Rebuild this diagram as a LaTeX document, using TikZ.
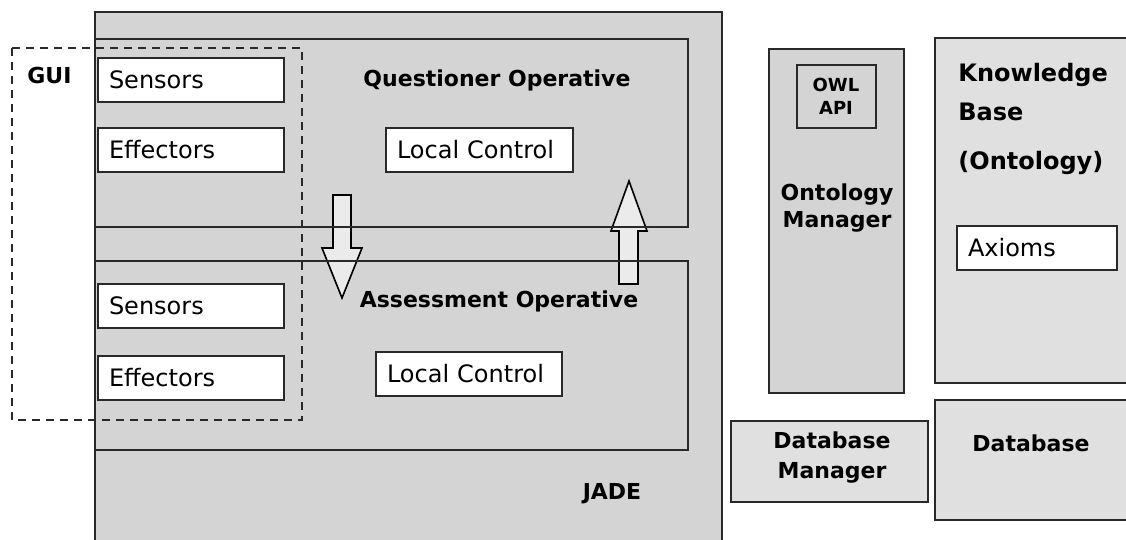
\documentclass[tikz,border=0pt]{standalone}
\usepackage{fontspec}
\setmainfont{DejaVu Sans}
\usetikzlibrary{calc}
\definecolor{JadeClr}{rgb}{0.831,0.831,0.831}
\definecolor{StoreClr}{rgb}{0.878,0.878,0.878}
\definecolor{ArrowClr}{rgb}{0.922,0.922,0.922}
\definecolor{EdgeClr}{rgb}{0.16,0.16,0.16}

\begin{document}
\begin{tikzpicture}[x=.5pt,y=-.5pt,
  box/.style={draw=EdgeClr,line width=1pt},
  inbox/.style={draw=EdgeClr,line width=1pt,fill=white,anchor=north west,inner xsep=5.5pt,inner ysep=0pt,minimum height=22pt,align=left,font=\fontsize{12}{14}\selectfont},
  title/.style={font=\bfseries\fontsize{11}{13.5}\selectfont,inner sep=0pt,align=center},
  blockarrow/.style={draw=black,line width=.8pt,fill=ArrowClr,line join=miter}]
\clip (0,0) rectangle (1126,540);

\draw[box,fill=JadeClr] (95,12) rectangle (722,560);
\fill[JadeClr] (95,39) rectangle (688,227);
\fill[JadeClr] (95,261) rectangle (688,450);

\draw[blockarrow] (333,195) -- (351,195) -- (351,248) -- (362,248) -- (342,298) -- (322,248) -- (333,248) -- cycle;
\draw[blockarrow] (619,284) -- (638,284) -- (638,231) -- (647,231) -- (629,181) -- (611,231) -- (619,231) -- cycle;

\draw[box] (95,39) rectangle (688,227);
\draw[box] (95,261) rectangle (688,450);
\draw[draw=EdgeClr,line width=1pt,dash pattern=on 4pt off 3pt] (12,48) rectangle (302,420);

\node[title,anchor=west] (gui) at (27,75) {GUI};
\node[inbox,text width=82pt] (sensq) at (97,57) {Sensors};
\node[inbox,text width=82pt] (effq) at (97,127) {Effectors};
\node[inbox,text width=82pt] (sensa) at (97,283) {Sensors};
\node[inbox,text width=82pt] (effa) at (97,355) {Effectors};

\node[title] (qop) at (497,80) {Questioner Operative};
\node[inbox,text width=82.5pt] (lcq) at (385,127) {Local Control};
\node[title] (aop) at (499,301) {Assessment Operative};
\node[inbox,text width=82pt] (lca) at (375,351) {Local Control};
\node[title] (jade) at (612,494) {JADE};

\draw[box,fill=JadeClr] (769,49) rectangle (904,393);
\draw[box,fill=JadeClr] (797,65) rectangle (876,128);
\node[title,font=\bfseries\fontsize{9}{11.5}\selectfont] (owl) at (836,96) {OWL\\API};
\node[title] (ontman) at (837,208) {Ontology\\Manager};

\draw[box,fill=StoreClr] (935,38) rectangle (1140,383);
\node[title,anchor=west,align=left,font=\bfseries\fontsize{12}{19.5}\selectfont] (kb) at (958,92) {Knowledge\\Base};
\node[title,anchor=west,font=\bfseries\fontsize{12}{14}\selectfont] (kbont) at (958,163) {(Ontology)};
\node[inbox,text width=69pt] (axioms) at (956,225) {Axioms};

\draw[box,fill=StoreClr] (731,421) rectangle (928,502);
\node[title,font=\bfseries\fontsize{11}{15}\selectfont] (dbman) at (832,458) {Database\\Manager};
\draw[box,fill=StoreClr] (935,400) rectangle (1140,520);
\node[title] (db) at (1031,443) {Database};

\end{tikzpicture}
\end{document}
